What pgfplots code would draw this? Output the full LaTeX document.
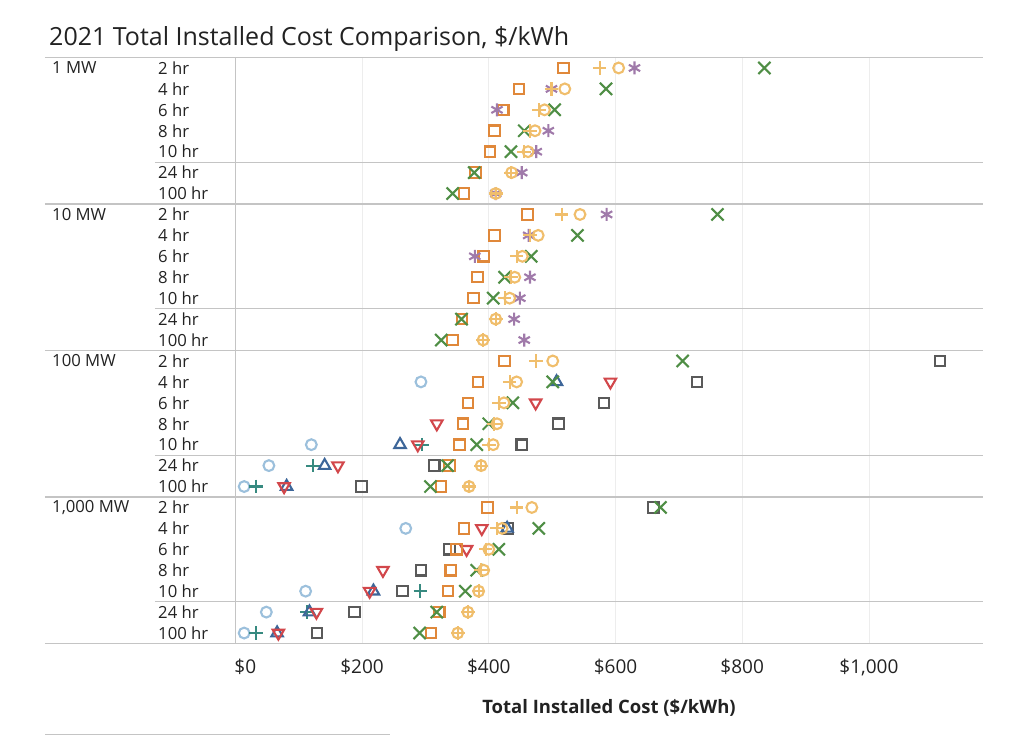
\documentclass[border=0pt]{standalone}
\usepackage{fontspec}
\setmainfont{Open Sans}
\usepackage{pgfplots}
\pgfplotsset{compat=1.18}
\usepackage{pgfplotstable}

\definecolor{cSq}{HTML}{E0883A}
\definecolor{cYel}{HTML}{F0BE6C}
\definecolor{cPur}{HTML}{A07AAA}
\definecolor{cGrn}{HTML}{4F8E45}
\definecolor{cRed}{HTML}{D2474B}
\definecolor{cBlu}{HTML}{3D6699}
\definecolor{cTea}{HTML}{378A80}
\definecolor{cLbl}{HTML}{9CC0DC}
\definecolor{cGry}{HTML}{5A5A5A}
\definecolor{cSep}{HTML}{C4C4C4}
\definecolor{cTxt}{HTML}{222222}

\pgfplotstableread{
x y
518 0
448 -1
423 -2
409 -3
402 -4
379 -5
361 -6
461 -7
409 -8
392 -9
382 -10
376 -11
358 -12
343 -13
425 -14
383 -15
367 -16
359 -17
354 -18
338 -19
325 -20
398 -21
361 -22
349 -23
340 -24
336 -25
322 -26
309 -27
}\tSquare

\pgfplotstableread{
x y
575 0
499 -1
479 -2
465 -3
456 -4
435 -5
411 -6
515 -7
465 -8
444 -9
435 -10
425 -11
411 -12
391 -13
475 -14
433 -15
416 -16
408 -17
400 -18
388 -19
369 -20
444 -21
413 -22
395 -23
388 -24
384 -25
367 -26
351 -27
}\tPlus

\pgfplotstableread{
x y
605 0
520 -1
488 -2
473 -3
462 -4
436 -5
411 -6
544 -7
478 -8
453 -9
441 -10
433 -11
411 -12
391 -13
501 -14
444 -15
424 -16
413 -17
407 -18
388 -19
369 -20
468 -21
421 -22
400 -23
392 -24
384 -25
367 -26
351 -27
}\tCircle

\pgfplotstableread{
x y
630 0
499 -1
413 -2
494 -3
475 -4
452 -5
411 -6
586 -7
463 -8
378 -9
465 -10
449 -11
440 -12
456 -13
}\tAst

\pgfplotstableread{
x y
835 0
585 -1
504 -2
456 -3
435 -4
377 -5
343 -6
761 -7
540 -8
467 -9
425 -10
407 -11
357 -12
325 -13
706 -14
501 -15
438 -16
400 -17
381 -18
335 -19
308 -20
671 -21
479 -22
416 -23
381 -24
363 -25
318 -26
291 -27
}\tX

\pgfplotstableread{
x y
592 -15
474 -16
318 -17
288 -18
162 -19
77 -20
389 -22
365 -23
233 -24
212 -25
128 -26
68 -27
}\tDown

\pgfplotstableread{
x y
507 -15
260 -18
141 -19
81 -20
429 -22
218 -25
117 -26
66 -27
}\tUp

\pgfplotstableread{
x y
295 -18
123 -19
33 -20
292 -25
113 -26
33 -27
}\tTeal

\pgfplotstableread{
x y
293 -15
120 -18
53 -19
14 -20
269 -22
111 -25
49 -26
14 -27
}\tLight

\pgfplotstableread{
x y
1112 -14
729 -15
582 -16
510 -17
452 -18
314 -19
199 -20
660 -21
430 -22
338 -23
293 -24
264 -25
188 -26
129 -27
}\tGray

\begin{document}
\begin{tikzpicture}[
  glab/.style={anchor=west, inner sep=0pt, font=\fontsize{16.7}{19}\selectfont, text=cTxt, xshift=-183.3pt},
  dlab/.style={anchor=west, inner sep=0pt, font=\fontsize{16.7}{19}\selectfont, text=cTxt, xshift=-77.3pt}]
\path[use as bounding box] (0,0) rectangle (1024pt,736pt);
\node[anchor=base west, inner sep=0pt, font=\fontsize{25}{29}\selectfont, text=cTxt] at (49pt,690pt) {2021 Total Installed Cost Comparison, \$/kWh};
\begin{axis}[
  at={(235.3pt,92.5pt)}, anchor=south west,
  scale only axis, width=747.7pt, height=586pt,
  xmin=0, xmax=1180, ymin=-27.5, ymax=0.5,
  clip=false,
  axis line style={draw=none},
  major tick length=0pt,
  ytick=\empty,
  xtick={0,200,400,600,800,1000},
  xticklabels={{\hspace*{20pt}\$0},{\$200},{\$400},{\$600},{\$800},{\$1,000}},
  xticklabel style={font=\fontsize{19}{22}\selectfont, text=cTxt, anchor=base, inner sep=0pt, yshift=-29.5pt},
  xmajorgrids,
  grid style={draw=black!7, line width=0.8pt},
  every axis plot/.append style={only marks, line width=2.1pt, mark options={solid}},
]
% separators
\draw[cSep, line width=1.6pt] ([xshift=-190.3pt]axis cs:0,0.5) -- (axis cs:1180,0.5);
\pgfplotsinvokeforeach{-6.5,-13.5,-20.5,-27.5}{
  \draw[cSep, line width=1.4pt] ([xshift=-190.3pt]axis cs:0,#1) -- (axis cs:1180,#1);
}
\pgfplotsinvokeforeach{-4.5,-11.5,-18.5,-25.5}{
  \draw[cSep, line width=1.2pt] ([xshift=-80.3pt]axis cs:0,#1) -- (axis cs:1180,#1);
}
\draw[cSep, line width=1.2pt] (axis cs:0,0.5) -- (axis cs:0,-27.5);
% group labels
\node[glab] at (axis cs:0,0) {1 MW};
\node[glab] at (axis cs:0,-7) {10 MW};
\node[glab] at (axis cs:0,-14) {100 MW};
\node[glab] at (axis cs:0,-21) {1,000 MW};
% duration labels
\node[dlab] at (axis cs:0,0) {2 hr};
\node[dlab] at (axis cs:0,-1) {4 hr};
\node[dlab] at (axis cs:0,-2) {6 hr};
\node[dlab] at (axis cs:0,-3) {8 hr};
\node[dlab] at (axis cs:0,-4) {10 hr};
\node[dlab] at (axis cs:0,-5) {24 hr};
\node[dlab] at (axis cs:0,-6) {100 hr};
\node[dlab] at (axis cs:0,-7) {2 hr};
\node[dlab] at (axis cs:0,-8) {4 hr};
\node[dlab] at (axis cs:0,-9) {6 hr};
\node[dlab] at (axis cs:0,-10) {8 hr};
\node[dlab] at (axis cs:0,-11) {10 hr};
\node[dlab] at (axis cs:0,-12) {24 hr};
\node[dlab] at (axis cs:0,-13) {100 hr};
\node[dlab] at (axis cs:0,-14) {2 hr};
\node[dlab] at (axis cs:0,-15) {4 hr};
\node[dlab] at (axis cs:0,-16) {6 hr};
\node[dlab] at (axis cs:0,-17) {8 hr};
\node[dlab] at (axis cs:0,-18) {10 hr};
\node[dlab] at (axis cs:0,-19) {24 hr};
\node[dlab] at (axis cs:0,-20) {100 hr};
\node[dlab] at (axis cs:0,-21) {2 hr};
\node[dlab] at (axis cs:0,-22) {4 hr};
\node[dlab] at (axis cs:0,-23) {6 hr};
\node[dlab] at (axis cs:0,-24) {8 hr};
\node[dlab] at (axis cs:0,-25) {10 hr};
\node[dlab] at (axis cs:0,-26) {24 hr};
\node[dlab] at (axis cs:0,-27) {100 hr};
% data
\addplot[cGry, mark=square, mark size=5.2pt] table {\tGray};
\addplot[cLbl, mark=o, mark size=5.4pt] table {\tLight};
\addplot[cTea, mark=+, mark size=6.8pt] table {\tTeal};
\addplot[cBlu, mark=triangle, mark size=6.6pt] table {\tUp};
\addplot[cRed, mark=triangle, mark size=6.6pt, mark options={rotate=180}] table {\tDown};
\addplot[cSq, mark=square, mark size=5.2pt] table {\tSquare};
\addplot[cGrn, mark=x, mark size=8.6pt] table {\tX};
\addplot[cPur, mark=asterisk, mark size=6.5pt] table {\tAst};
\addplot[cYel, mark=+, mark size=6.8pt] table {\tPlus};
\addplot[cYel, mark=o, mark size=5.4pt] table {\tCircle};
\end{axis}
\node[anchor=base, inner sep=0pt, font=\fontsize{18.5}{21}\selectfont\bfseries, text=cTxt] at (609pt,23pt) {Total Installed Cost (\$/kWh)};
\draw[cSep, line width=1.2pt] (45pt,1.2pt) -- (390pt,1.2pt);
\end{tikzpicture}
\end{document}
